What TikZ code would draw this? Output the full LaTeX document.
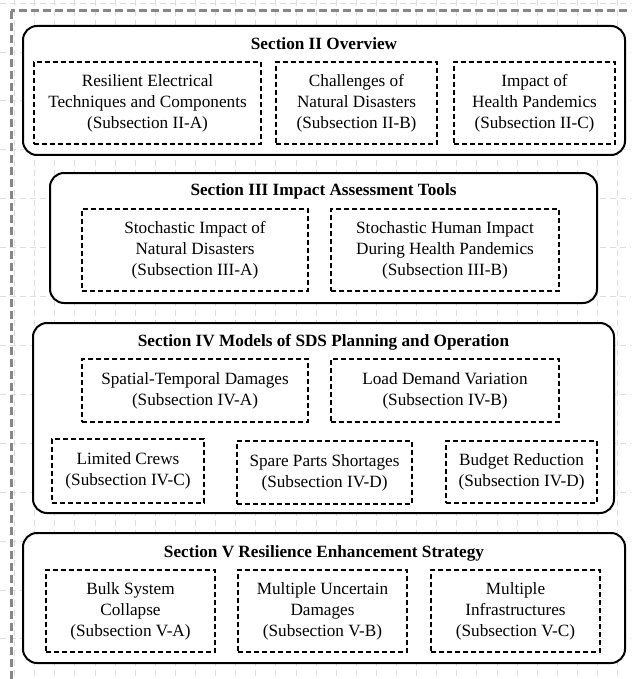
\documentclass[tikz,border=0pt]{standalone}
\usepackage{fontspec}
\setmainfont{Liberation Serif}
\begin{document}
\begin{tikzpicture}[x=1pt,y=-1pt,
  every node/.style={font=\fontsize{17.2}{21}\selectfont, align=center, inner sep=0pt},
  gridline/.style={draw=black!13, line width=0.8pt, dash pattern=on 6pt off 4pt},
  frame/.style={draw=black!47, line width=3pt, dash pattern=on 8pt off 4pt},
  sectionbox/.style={draw=black, fill=white, line width=2pt, rounded corners=14pt},
  subbox/.style={draw=black, fill=white, line width=1.3pt, dash pattern=on 5pt off 3pt},
  sectiontitle/.style={font=\fontsize{17.2}{21}\selectfont\bfseries}]
\useasboundingbox (0,0) rectangle (631,679);
\clip (0,0) rectangle (631,679);
\fill[white] (0,0) rectangle (631,679);

% background grid
\foreach \i in {0,...,31} \draw[gridline] (14.5+20.1*\i,0) -- (14.5+20.1*\i,679);
\foreach \j in {0,...,13} \draw[gridline] (0,3.1+48.9*\j) -- (631,3.1+48.9*\j);

% outer frame
\draw[frame] (11,11) rectangle (650,700);

% Section II
\node[sectionbox, minimum width=602pt, minimum height=129pt] (s2) at (324,90.5) {};
\node[sectiontitle] (s2t) at (324,44) {Section II Overview};
\node[subbox, minimum width=227pt, minimum height=82pt] (s2a) at (147.5,103) {Resilient Electrical\\Techniques and Components\\(Subsection II-A)};
\node[subbox, minimum width=161pt, minimum height=82pt] (s2b) at (356.5,103) {Challenges of\\Natural Disasters\\(Subsection II-B)};
\node[subbox, minimum width=161pt, minimum height=82pt] (s2c) at (534.5,103) {Impact of\\Health Pandemics\\(Subsection II-C)};

% Section III
\node[sectionbox, minimum width=547pt, minimum height=130pt] (s3) at (323.5,238) {};
\node[sectiontitle] (s3t) at (323.5,191) {Section III Impact Assessment Tools};
\node[subbox, minimum width=226pt, minimum height=82pt] (s3a) at (195,250) {Stochastic Impact of\\Natural Disasters\\(Subsection III-A)};
\node[subbox, minimum width=228pt, minimum height=82pt] (s3b) at (445,250) {Stochastic Human Impact\\During Health Pandemics\\(Subsection III-B)};

% Section IV
\node[sectionbox, minimum width=581pt, minimum height=190pt] (s4) at (323.5,418) {};
\node[sectiontitle] (s4t) at (323.5,342) {Section IV Models of SDS Planning and Operation};
\node[subbox, minimum width=226pt, minimum height=63pt] (s4a) at (195,390.5) {Spatial-Temporal Damages\\(Subsection IV-A)};
\node[subbox, minimum width=228pt, minimum height=63pt] (s4b) at (445,390.5) {Load Demand Variation\\(Subsection IV-B)};
\node[subbox, minimum width=152pt, minimum height=64pt] (s4c) at (128,471) {Limited Crews\\(Subsection IV-C)};
\node[subbox, minimum width=175pt, minimum height=63pt] (s4d) at (324.5,472.5) {Spare Parts Shortages\\(Subsection IV-D)};
\node[subbox, minimum width=151pt, minimum height=62pt] (s4e) at (521.5,472) {Budget Reduction\\(Subsection IV-D)};

% Section V
\node[sectionbox, minimum width=602pt, minimum height=130pt] (s5) at (324,598) {};
\node[sectiontitle] (s5t) at (324,553) {Section V Resilience Enhancement Strategy};
\node[subbox, minimum width=169pt, minimum height=82pt] (s5a) at (130.5,611) {Bulk System\\Collapse\\(Subsection V-A)};
\node[subbox, minimum width=169pt, minimum height=82pt] (s5b) at (322.5,611) {Multiple Uncertain\\Damages\\(Subsection V-B)};
\node[subbox, minimum width=169pt, minimum height=82pt] (s5c) at (515.5,611) {Multiple\\Infrastructures\\(Subsection V-C)};
\end{tikzpicture}
\end{document}
